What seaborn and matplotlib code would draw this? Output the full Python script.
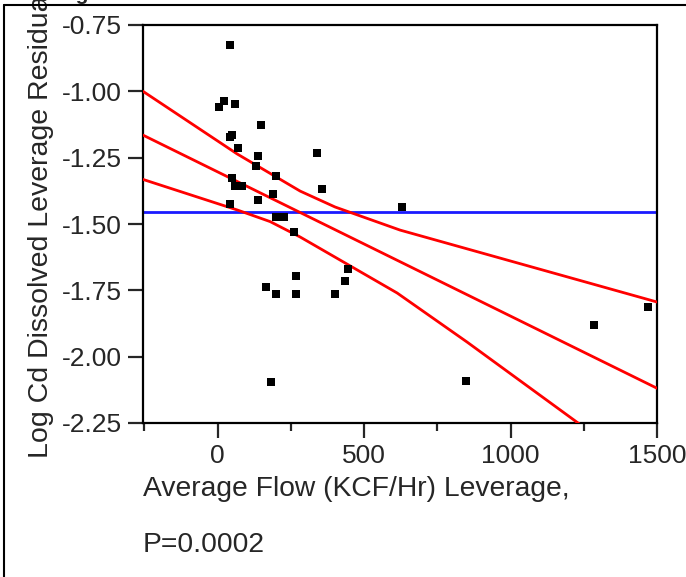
import numpy as np
import pandas as pd
import seaborn as sns
import matplotlib.pyplot as plt
from matplotlib.lines import Line2D
from matplotlib.ticker import MultipleLocator, FormatStrFormatter

# leverage points
flow_leverage = [41.6, 23.2, 6.1, 59.7, 146.8, 50.5, 41.6, 68.3, 138.2, 129.7,
                 199.7, 50.5, 59.7, 84.6, 190.4, 138.2, 41.6, 199.7, 225.3, 261.1,
                 339.6, 356.7, 628.7, 444.4, 436.2, 268.9, 163.8, 199.7, 268.9, 401.0,
                 181.6, 1286.0, 1470.3, 848.1]
cd_residual = [-0.825, -1.038, -1.058, -1.048, -1.126, -1.165, -1.173, -1.212, -1.242, -1.281,
               -1.319, -1.327, -1.358, -1.358, -1.387, -1.408, -1.425, -1.475, -1.475, -1.532,
               -1.232, -1.368, -1.436, -1.670, -1.716, -1.697, -1.736, -1.765, -1.765, -1.765,
               -2.094, -1.881, -1.814, -2.093]

# fit line and confidence curves
fit_x = [-255, 1500]
fit_y = [-1.165, -2.119]
upper_x = [-255, 66.5, 281.6, 401.0, 622.9, 1500]
upper_y = [-1.000, -1.236, -1.376, -1.436, -1.523, -1.794]
lower_x = [-255, 66.5, 179.2, 281.6, 612.7, 851.6, 1230.5, 1500]
lower_y = [-1.332, -1.447, -1.491, -1.549, -1.760, -1.945, -2.250, -2.472]
mean_residual = -1.455

sns.set_style("white")
plt.rcParams['font.family'] = ['Liberation Sans', 'DejaVu Sans']

fig = plt.figure(figsize=(6.86, 5.77), dpi=100)
ax = fig.add_axes([143 / 686, 1 - 423 / 577, 514 / 686, 398 / 577])

ax.axhline(mean_residual, color="#1a1aff", lw=2, zorder=2)
for cx, cy in [(upper_x, upper_y), (fit_x, fit_y), (lower_x, lower_y)]:
    sns.lineplot(x=cx, y=cy, ax=ax, color="#ff0000", lw=2, sort=False,
                 estimator=None, zorder=3)

df = pd.DataFrame({"flow": flow_leverage, "resid": cd_residual})
sns.scatterplot(data=df, x="flow", y="resid", ax=ax, marker="s", s=30,
                color="black", linewidth=0, zorder=4)

ax.set_xlim(-255, 1500)
ax.set_ylim(-2.25, -0.75)
ax.xaxis.set_major_locator(MultipleLocator(500))
ax.xaxis.set_minor_locator(MultipleLocator(250))
ax.yaxis.set_major_locator(MultipleLocator(0.25))
ax.yaxis.set_major_formatter(FormatStrFormatter("%.2f"))

for s in ax.spines.values():
    s.set_linewidth(1.6)
    s.set_color("black")

ax.tick_params(axis="both", which="major", direction="out", length=11, width=1.6,
               labelsize=19, pad=4, bottom=True, left=True)
ax.tick_params(axis="x", which="minor", direction="out", length=6, width=1.6, bottom=True)

ax.set_ylabel("Log Cd Dissolved Leverage Residual", fontsize=20.5, labelpad=6)
ax.set_xlabel("Average Flow (KCF/Hr) Leverage,\nP=0.0002", fontsize=20.3,
              loc="left", linespacing=2.5, labelpad=6)
ax.xaxis.label.set_horizontalalignment("left")

# report frame and clipped outline title
fig.add_artist(Line2D([4 / 686, 1], [1 - 4.5 / 577, 1 - 4.5 / 577], color="black", lw=1.5))
fig.add_artist(Line2D([4 / 686, 4 / 686], [0, 1 - 4.5 / 577], color="black", lw=1.5))
fig.text(8 / 686, 1.0, "Leverage Plot", fontsize=15, fontweight="bold", va="baseline")

fig.savefig("out.png", dpi=100)
